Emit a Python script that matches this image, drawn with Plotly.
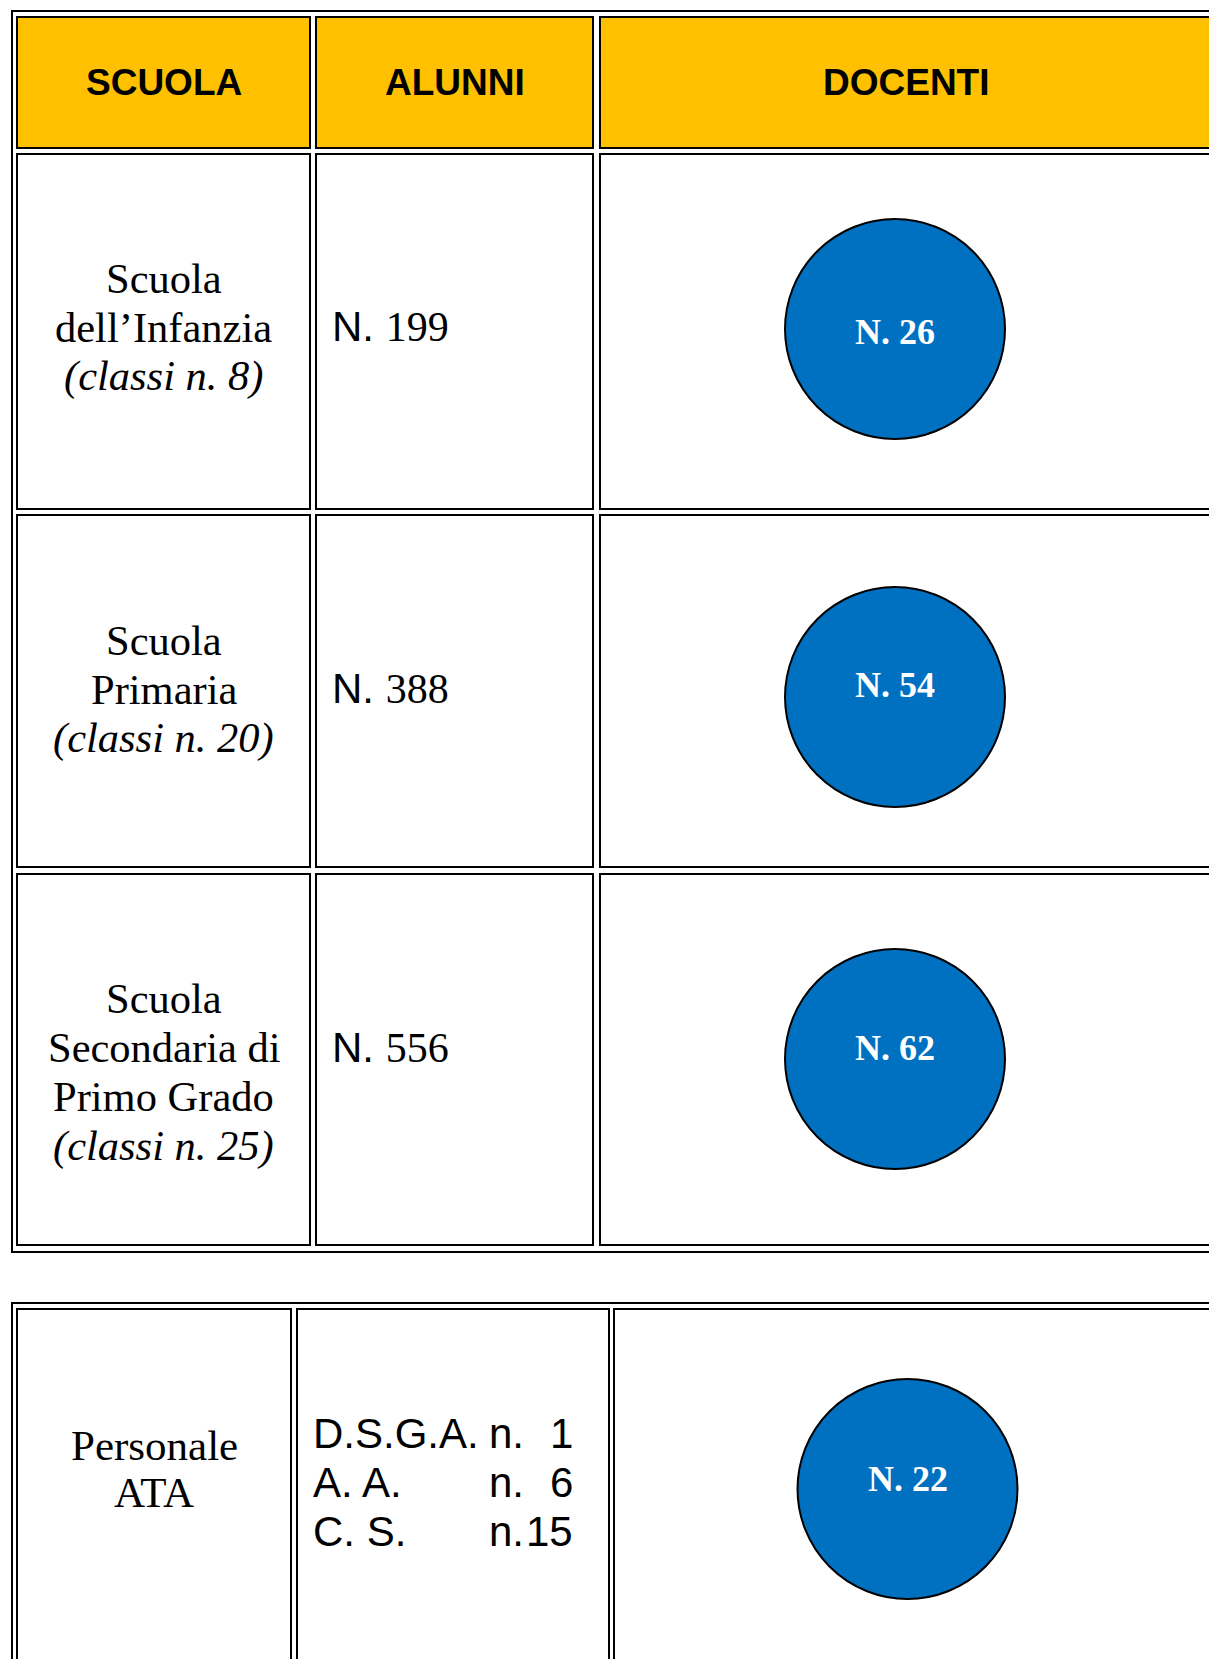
import plotly.graph_objects as go

# ---------------- data ----------------
headers = ["SCUOLA", "ALUNNI", "DOCENTI"]
school_lines = [
    ["Scuola", "dell’Infanzia"],
    ["Scuola", "Primaria"],
    ["Scuola", "Secondaria di", "Primo Grado"],
]
classes = [8, 20, 25]
alunni = [199, 388, 556]
docenti = [26, 54, 62]
ata_label = ["Personale", "ATA"]
ata_roles = ["D.S.G.A.", "A. A.", "C. S."]
ata_counts = [1, 6, 15]
ata_total = [22]

# ---------------- layout geometry ----------------
W, H = 1209, 1659
SERIF = "Liberation Serif"
SANS = "Liberation Sans"
HEAD_FILL = "#FFC000"
CIRCLE_FILL = "#0070C0"

t1_cols = [(17, 310), (316, 593), (600, 1216)]
t1_head = (17, 148)
t1_rows = [(154, 509), (515, 867), (874, 1245)]
t1_outer = (12, 11, 1222, 1252)

t2_cols = [(17, 291), (297, 609), (614, 1216)]
t2_row = (1309, 1720)
t2_outer = (12, 1303, 1222, 1720)

row_text_top = [278, 640, 998.5]
line_gap = 49
alunni_y = [326, 688.5, 1047]
circle_x = 895
circle_y = [329, 697, 1059]
circle_text_y = [332, 685, 1048]
ata_text_top = 1445
ata_list_top = 1433
ata_list_gap = 49
ata_circle = (907.5, 1489)
ata_circle_text_y = 1479
circle_d = 220

shapes = []


def rect(x0, y0, x1, y1, fill=None, w=2):
    shapes.append(dict(type="rect", xref="x", yref="y", x0=x0, y0=y0, x1=x1, y1=y1,
                       line=dict(color="black", width=w),
                       fillcolor=fill if fill else "rgba(0,0,0,0)", layer="below"))


# table 1
rect(*t1_outer)
for (c0, c1) in t1_cols:
    rect(c0, t1_head[0], c1, t1_head[1], HEAD_FILL)
    for (r0, r1) in t1_rows:
        rect(c0, r0, c1, r1)
# table 2
rect(*t2_outer)
for (c0, c1) in t2_cols:
    rect(c0, t2_row[0], c1, t2_row[1])

ann = []


def text(x, y, s, size, family, color="black", xanchor="center"):
    ann.append(dict(x=x, y=y, xref="x", yref="y", text=s, showarrow=False,
                    xanchor=xanchor, yanchor="middle",
                    font=dict(size=size, family=family, color=color)))


# headers
for (c0, c1), h in zip(t1_cols, headers):
    cx = (c0 + c1) / 2 if c1 < 1200 else 906.5
    text(cx, 82.5, "<b>%s</b>" % h, 37, SANS)

# school names
col1_cx = (t1_cols[0][0] + t1_cols[0][1]) / 2
for i, lines in enumerate(school_lines):
    all_lines = lines + ["<i>(classi n. %d)</i>" % classes[i]]
    for j, ln in enumerate(all_lines):
        text(col1_cx, row_text_top[i] + j * line_gap, ln, 42.5, SERIF)

# alunni
for i, a in enumerate(alunni):
    text(330, alunni_y[i], "N. <span style='font-family:%s'>%d</span>" % (SERIF, a), 42, SANS,
         xanchor="left")

# docenti circles
fig = go.Figure()
fig.add_trace(go.Scatter(
    x=[circle_x] * len(docenti), y=circle_y, mode="markers",
    marker=dict(size=circle_d, color=CIRCLE_FILL, line=dict(color="black", width=2)),
    hoverinfo="skip"))
for d, ty in zip(docenti, circle_text_y):
    text(circle_x, ty, "<b>N. %d</b>" % d, 36, SERIF, color="white")

# ATA
col1b_cx = (t2_cols[0][0] + t2_cols[0][1]) / 2
for j, ln in enumerate(ata_label):
    text(col1b_cx, ata_text_top + j * 47.5, ln, 43, SERIF)
for j, (r, c) in enumerate(zip(ata_roles, ata_counts)):
    y = ata_list_top + j * ata_list_gap
    text(311, y, r, 42, SANS, xanchor="left")
    text(487, y, "n.", 42, SANS, xanchor="left")
    text(575, y, str(c), 42, SANS, xanchor="right")

fig.add_trace(go.Scatter(
    x=[ata_circle[0]], y=[ata_circle[1]], mode="markers",
    marker=dict(size=circle_d, color=CIRCLE_FILL, line=dict(color="black", width=2)),
    hoverinfo="skip"))
for v in ata_total:
    text(ata_circle[0], ata_circle_text_y, "<b>N. %d</b>" % v, 36, SERIF, color="white")

fig.update_layout(
    width=W, height=H, margin=dict(l=0, r=0, t=0, b=0),
    paper_bgcolor="white", plot_bgcolor="white", showlegend=False,
    xaxis=dict(range=[0, W], visible=False, fixedrange=True),
    yaxis=dict(range=[H, 0], visible=False, fixedrange=True),
    shapes=shapes, annotations=ann,
)

fig.write_html("out.html", config={"displayModeBar": False},
               post_script="document.body.style.margin='0';document.body.style.overflow='hidden';")
